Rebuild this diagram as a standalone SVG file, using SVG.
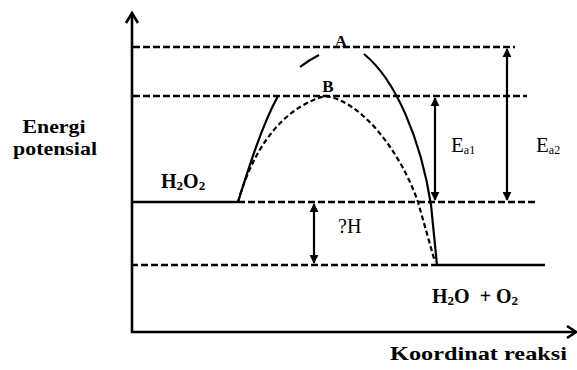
<svg xmlns="http://www.w3.org/2000/svg" width="577" height="370" viewBox="0 0 577 370">
<style>
.ax{stroke:#000;stroke-width:2.6;fill:none}
.dash{stroke:#000;stroke-width:2.6;fill:none;stroke-dasharray:7 3}
.solid{stroke:#000;stroke-width:2.6;fill:none}
.curveA{stroke:#000;stroke-width:2.2;fill:none}
.curveB{stroke:#000;stroke-width:2.2;fill:none;stroke-dasharray:5 3}
.arr{stroke:#000;stroke-width:2.2;fill:none;marker-start:url(#ah);marker-end:url(#ah)}
.lb{font-family:"Liberation Serif","Times New Roman",serif;font-weight:bold;fill:#000}
.lr{font-family:"Liberation Serif","Times New Roman",serif;fill:#000}
</style>
<defs>
<marker id="ah" viewBox="0 0 10 10" refX="9" refY="5" markerWidth="4" markerHeight="4.5" orient="auto-start-reverse">
<path d="M0,0 L10,5 L0,10 Z" fill="#000"/>
</marker>
</defs>
<g id="axes">
<path class="ax" d="M132,14 L132,332 L575,332"/>
<path class="ax" d="M126,23 L132,13 L138,23"/>
<path class="ax" d="M567,326 L576,332 L567,338"/>
</g>
<g id="levels">
<line class="dash" x1="133" y1="47" x2="515" y2="47"/>
<line class="dash" x1="133" y1="96" x2="527" y2="96"/>
<line class="solid" x1="131" y1="202" x2="238" y2="202"/>
<line class="dash" x1="238" y1="202" x2="537" y2="202"/>
<line class="dash" x1="131" y1="265" x2="437" y2="265"/>
<line class="solid" x1="437" y1="265" x2="545" y2="265"/>
</g>
<g id="curveA">
<path class="curveA" d="M238,202 C248,170 262,125 278,96"/>
<path class="curveA" d="M300,67 Q309,60 319,55"/>
<path class="curveA" d="M364,54 C396,80 421,140 431,205 L437,265"/>
</g>
<g id="curveB">
<path class="curveB" d="M238,202 C250,160 275,110 325,96 C360,100 400,150 418,202 L435,262"/>
</g>
<g id="connectors">
<line class="arr" x1="435" y1="98" x2="435" y2="200"/>
<line class="arr" x1="507" y1="49" x2="507" y2="200"/>
<line class="arr" x1="314" y1="204" x2="314" y2="263"/>
</g>
<g id="labels">
<text class="lb" x="54" y="133" font-size="19" text-anchor="middle" textLength="63" lengthAdjust="spacingAndGlyphs">Energi</text>
<text class="lb" x="55" y="155" font-size="19" text-anchor="middle" textLength="84" lengthAdjust="spacingAndGlyphs">potensial</text>
<text class="lb" x="341" y="47" font-size="17" text-anchor="middle">A</text>
<text class="lb" x="328" y="92" font-size="17" text-anchor="middle">B</text>
<text class="lb" x="161" y="188" font-size="20">H<tspan font-size="13" dy="2">2</tspan><tspan dy="-2">O</tspan><tspan font-size="13" dy="2">2</tspan></text>
<text class="lr" x="451" y="152" font-size="21">E<tspan font-size="12" dy="2">a1</tspan></text>
<text class="lr" x="536" y="152" font-size="21">E<tspan font-size="12" dy="2">a2</tspan></text>
<text class="lr" x="338" y="233" font-size="20">?H</text>
<text class="lb" x="432" y="303" font-size="20">H<tspan font-size="13" dy="2">2</tspan><tspan dy="-2">O</tspan><tspan dx="10">+ O</tspan><tspan font-size="13" dy="2">2</tspan></text>
<text class="lb" x="390" y="360" font-size="19" textLength="177" lengthAdjust="spacingAndGlyphs">Koordinat reaksi</text>
</g>
</svg>
